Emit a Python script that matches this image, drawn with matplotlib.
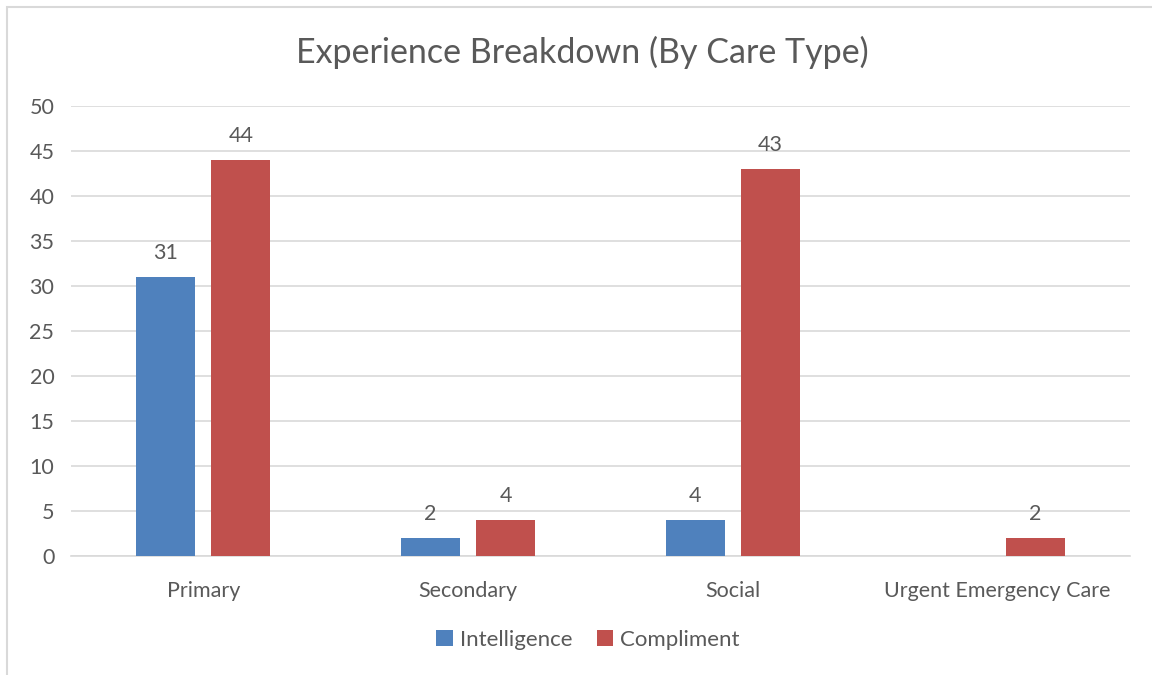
import numpy as np
import matplotlib
matplotlib.use('Agg')
from matplotlib import pyplot as plt
from matplotlib.patches import Rectangle

# data
categories = ['Primary', 'Secondary', 'Social', 'Urgent Emergency Care']
intelligence = [31, 2, 4, np.nan]
compliment = [44, 4, 43, 2]
series_names = ['Intelligence', 'Compliment']
colors = ['#4F81BD', '#C0504D']
yticks = list(range(0, 51, 5))

plt.rcParams['font.family'] = ['Lato', 'DejaVu Sans']
txt = '#595959'

fig = plt.figure(figsize=(11.52, 6.75), dpi=100)
ax = fig.add_axes([71/1152, 1-556/675, (1130-71)/1152, (556-106)/675])

x = np.arange(len(categories))
w = 0.223
off = 0.1417
for vals, sign, col, name in zip([intelligence, compliment], [-1, 1], colors, series_names):
    v = np.array(vals, dtype=float)
    bars = ax.bar(x + sign*off, np.nan_to_num(v), w, color=col, label=name, zorder=3)
    for xi, val in zip(x, v):
        if not np.isnan(val):
            ax.text(xi + sign*off, val + 1.6, f'{int(val)}', ha='center', va='bottom',
                    fontsize=15.5, color=txt)

ax.set_xlim(-0.5, 3.5)
ax.set_ylim(0, 50)
ax.set_yticks(yticks)
ax.set_xticks(x)
ax.set_xticklabels(categories)
ax.tick_params(axis='both', length=0, labelsize=15.5, labelcolor=txt)
ax.tick_params(axis='y', pad=12)
ax.tick_params(axis='x', pad=18)
ax.grid(axis='y', color='#d9d9d9', lw=1.2, zorder=0)
for s in ['top', 'right', 'left']:
    ax.spines[s].set_visible(False)
ax.spines['bottom'].set_color('#d9d9d9')
ax.spines['bottom'].set_linewidth(1.2)

fig.text(582/1152, 1-52/675, 'Experience Breakdown (By Care Type)', ha='center', va='center',
         fontsize=24.5, color=txt)

fig.legend(loc='center', bbox_to_anchor=(588/1152, 1-640/675), ncol=2, frameon=False,
           fontsize=16, handlelength=0.75, handleheight=0.75, handletextpad=0.3,
           columnspacing=1.1, labelcolor=txt)

fig.patches.append(Rectangle((7/1152, -0.1), 1.2, 1-7/675+0.1, transform=fig.transFigure,
                             fill=False, edgecolor='#d9d9d9', lw=1.5))

plt.savefig('out.png', dpi=100)
